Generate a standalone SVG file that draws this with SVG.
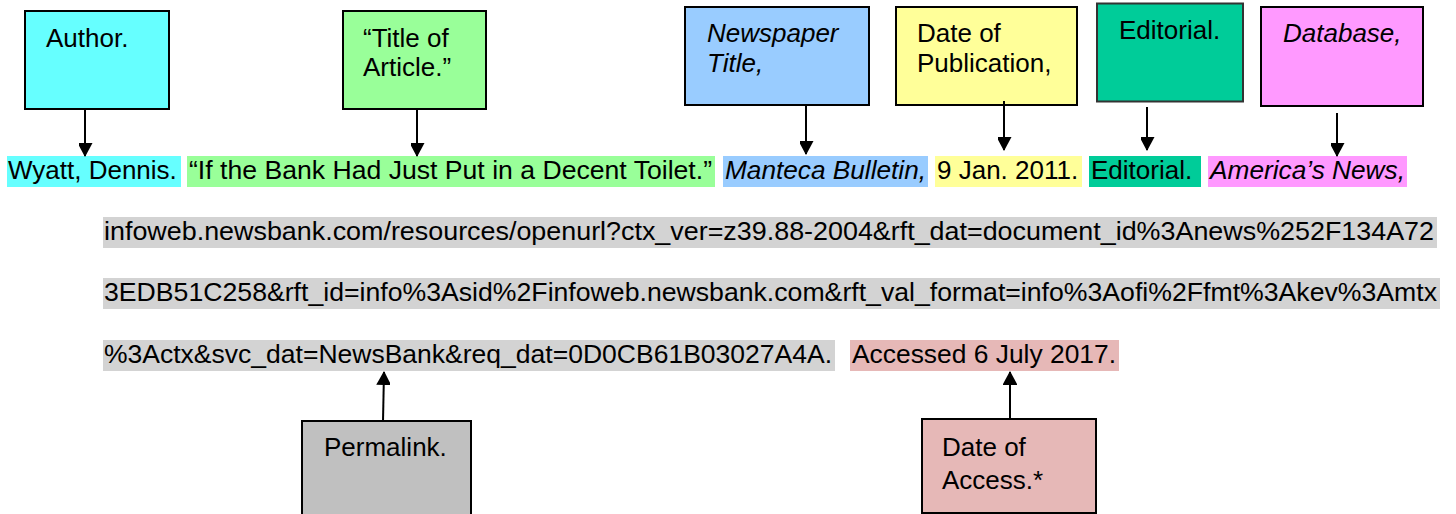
<svg xmlns="http://www.w3.org/2000/svg" width="1456" height="514" viewBox="0 0 1456 514">
<style>
text{font-family:"Liberation Sans",Arial,sans-serif;font-size:26px;fill:#000}
.it{font-style:italic}
.box{stroke:#000;stroke-width:2}
.conn{stroke:#000;stroke-width:2;fill:none}
</style>
<defs>
<marker id="ah" markerUnits="userSpaceOnUse" markerWidth="16" markerHeight="14" refX="13" refY="7.5" orient="auto">
<path d="M0,0 L14,7.5 L0,15 Z" fill="#000"/>
</marker>
</defs>
<rect width="1456" height="514" fill="#fff"/>

<g id="citation">
<rect x="7" y="156" width="174" height="31" fill="#66FFFF"/>
<text x="8" y="179">Wyatt, Dennis.</text>
<rect x="187" y="156" width="528" height="31" fill="#99FF99"/>
<text x="189" y="179" textLength="523" lengthAdjust="spacingAndGlyphs">“If the Bank Had Just Put in a Decent Toilet.”</text>
<rect x="723" y="156" width="205" height="31" fill="#99CCFF"/>
<text class="it" x="725" y="179" textLength="201" lengthAdjust="spacingAndGlyphs">Manteca Bulletin,</text>
<rect x="935" y="156" width="147" height="31" fill="#FFFF99"/>
<text x="937" y="179">9 Jan. 2011.</text>
<rect x="1089" y="156" width="112" height="31" fill="#00CC99"/>
<text x="1091" y="179">Editorial.</text>
<rect x="1208" y="156" width="199" height="31" fill="#FF99FF"/>
<text class="it" x="1210" y="179" textLength="195" lengthAdjust="spacingAndGlyphs">America’s News,</text>

<rect x="103" y="217" width="1334" height="31" fill="#D3D3D3"/>
<text x="104" y="240" textLength="1330" lengthAdjust="spacingAndGlyphs">infoweb.newsbank.com/resources/openurl?ctx_ver=z39.88-2004&amp;rft_dat=document_id%3Anews%252F134A72</text>
<rect x="103" y="278" width="1337" height="31" fill="#D3D3D3"/>
<text x="104" y="301" textLength="1333" lengthAdjust="spacingAndGlyphs">3EDB51C258&amp;rft_id=info%3Asid%2Finfoweb.newsbank.com&amp;rft_val_format=info%3Aofi%2Ffmt%3Akev%3Amtx</text>
<rect x="103" y="340" width="732" height="31" fill="#D3D3D3"/>
<text x="104" y="363" textLength="728" lengthAdjust="spacingAndGlyphs">%3Actx&amp;svc_dat=NewsBank&amp;req_dat=0D0CB61B03027A4A.</text>
<rect x="850" y="340" width="269" height="31" fill="#E6B8B7"/>
<text x="852" y="363" textLength="264" lengthAdjust="spacingAndGlyphs">Accessed 6 July 2017.</text>
</g>

<g id="author">
<rect class="box" x="25" y="11" width="144" height="98" fill="#66FFFF"/>
<text x="46" y="47">Author.</text>
</g>
<g id="title">
<rect class="box" x="343" y="11" width="143" height="98" fill="#99FF99"/>
<text x="363" y="47">“Title of</text>
<text x="363" y="76">Article.”</text>
</g>
<g id="newspaper">
<rect class="box" x="685" y="7" width="184" height="98" fill="#99CCFF"/>
<text class="it" x="707" y="42">Newspaper</text>
<text class="it" x="707" y="72">Title,</text>
</g>
<g id="pubdate">
<rect class="box" x="896" y="7" width="181" height="98" fill="#FFFF99"/>
<text x="917" y="42">Date of</text>
<text x="917" y="72">Publication,</text>
</g>
<g id="editorial">
<rect x="1097" y="3.5" width="146" height="98" fill="#00CC99" stroke="#333" stroke-width="2"/>
<text x="1119" y="39">Editorial.</text>
</g>
<g id="database">
<rect class="box" x="1261" y="7" width="162" height="99" fill="#FF99FF"/>
<text class="it" x="1283" y="42">Database,</text>
</g>
<g id="permalink">
<rect class="box" x="302" y="421" width="169" height="100" fill="#C0C0C0"/>
<text x="324" y="456">Permalink.</text>
</g>
<g id="access">
<rect class="box" x="922" y="419" width="174" height="94" fill="#E6B8B7"/>
<text x="942" y="456">Date of</text>
<text x="942" y="489">Access.*</text>
</g>

<g id="connectors">
<line class="conn" x1="85" y1="109" x2="85" y2="156" marker-end="url(#ah)"/>
<line class="conn" x1="417" y1="109" x2="417" y2="156" marker-end="url(#ah)"/>
<line class="conn" x1="806" y1="105" x2="806" y2="154" marker-end="url(#ah)"/>
<line class="conn" x1="1004" y1="101" x2="1004" y2="150" marker-end="url(#ah)"/>
<line class="conn" x1="1147" y1="107" x2="1147" y2="150" marker-end="url(#ah)"/>
<line class="conn" x1="1337" y1="113" x2="1337" y2="156" marker-end="url(#ah)"/>
<line class="conn" x1="383" y1="421" x2="384" y2="372" marker-end="url(#ah)"/>
<line class="conn" x1="1010" y1="419" x2="1010" y2="372" marker-end="url(#ah)"/>
</g>
</svg>
